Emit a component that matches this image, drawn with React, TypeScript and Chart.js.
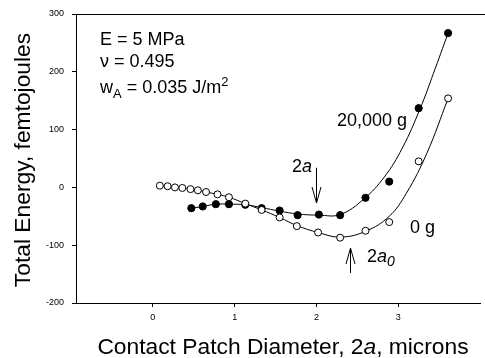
import React, { useEffect, useRef } from "react";
import { Chart, registerables } from "chart.js";

Chart.register(...registerables);

// 0 g series (open circles)
const xOpen = [0.085, 0.18, 0.27, 0.36, 0.46, 0.55, 0.65, 0.79, 0.93, 1.13, 1.33, 1.55, 1.76, 2.02, 2.29, 2.6, 2.89, 3.25, 3.61];
const yOpen = [3, 2, 0, -1, -3, -5, -8, -12, -17, -28, -39, -52, -67, -78, -87, -75, -60, 45, 154];

// 20,000 g series (filled circles)
const xFilled = [0.47, 0.61, 0.77, 0.93, 1.13, 1.33, 1.55, 1.77, 2.03, 2.29, 2.6, 2.89, 3.25, 3.61];
const yFilled = [-36, -33, -29, -29, -30, -36, -40, -48, -47, -48, -18, 10, 137, 267];

// fitted curves
const xOpenCurve = [0.085, 0.18, 0.27, 0.36, 0.46, 0.55, 0.65, 0.79, 0.93, 1.13, 1.33, 1.55, 1.76, 2.02, 2.29, 2.6, 2.89, 3.1, 3.35, 3.61];
const yOpenCurve = [3, 2, 0, -1, -3, -5, -8, -12, -17, -28, -39, -52, -66, -78, -86, -76, -50, -10, 59, 154];
const xFilledCurve = [0.47, 0.61, 0.77, 0.93, 1.13, 1.33, 1.55, 1.77, 2.03, 2.29, 2.58, 2.83, 3.05, 3.27, 3.43, 3.61];
const yFilledCurve = [-36, -33, -29, -29, -30, -35, -41, -46, -48, -47, -20, 18, 68, 137, 197, 267];

const xTickValues = [0, 1, 2, 3];
const yTickValues = [-200, -100, 0, 100, 200, 300];

const FONT = "'Liberation Sans', Arial, sans-serif";

type Seg = { t: string; size: number; italic?: boolean; dy?: number };

function drawSegs(ctx: CanvasRenderingContext2D, x: number, y: number, segs: Seg[]) {
  let cx = x;
  for (const s of segs) {
    ctx.font = `${s.italic ? "italic " : ""}${s.size}px ${FONT}`;
    ctx.fillText(s.t, cx, y + (s.dy || 0));
    cx += ctx.measureText(s.t).width;
  }
  return cx;
}

function segsWidth(ctx: CanvasRenderingContext2D, segs: Seg[]) {
  let w = 0;
  for (const s of segs) {
    ctx.font = `${s.italic ? "italic " : ""}${s.size}px ${FONT}`;
    w += ctx.measureText(s.t).width;
  }
  return w;
}

function arrow(ctx: CanvasRenderingContext2D, x: number, y0: number, y1: number) {
  const dir = y1 > y0 ? 1 : -1;
  ctx.beginPath();
  ctx.moveTo(x, y0);
  ctx.lineTo(x, y1);
  ctx.moveTo(x - 4.5, y1 - dir * 16);
  ctx.lineTo(x, y1);
  ctx.lineTo(x + 4.5, y1 - dir * 16);
  ctx.stroke();
}

const annotationPlugin = {
  id: "annotations",
  afterDraw(chart: any) {
    const ctx: CanvasRenderingContext2D = chart.ctx;
    const area = chart.chartArea;
    const xs = chart.scales.x;
    const ys = chart.scales.y;
    ctx.save();
    ctx.fillStyle = "#000";
    ctx.strokeStyle = "#000";
    ctx.lineWidth = 1;
    ctx.textBaseline = "alphabetic";
    ctx.textAlign = "left";

    // top frame line
    ctx.beginPath();
    ctx.moveTo(area.left, area.top + 0.5);
    ctx.lineTo(chart.width, area.top + 0.5);
    ctx.stroke();

    // parameter block
    drawSegs(ctx, 100, 45, [{ t: "E = 5 MPa", size: 18 }]);
    drawSegs(ctx, 100, 67, [{ t: "\u03bd = 0.495", size: 18 }]);
    drawSegs(ctx, 100, 93, [
      { t: "w", size: 18 },
      { t: "A", size: 13, dy: 5 },
      { t: " = 0.035 J/m", size: 18 },
      { t: "2", size: 13, dy: -7 },
    ]);

    // curve labels
    drawSegs(ctx, 337, 126, [{ t: "20,000 g", size: 18 }]);
    drawSegs(ctx, 410, 233, [{ t: "0 g", size: 18 }]);

    // 2a arrow (down)
    const ax = Math.round(xs.getPixelForValue(1.99)) + 0.5;
    arrow(ctx, ax, ys.getPixelForValue(34), ys.getPixelForValue(-27));
    drawSegs(ctx, 292, 172, [
      { t: "2", size: 18 },
      { t: "a", size: 18, italic: true },
    ]);

    // 2a0 arrow (up)
    const bx = Math.round(xs.getPixelForValue(2.41)) + 0.5;
    arrow(ctx, bx, ys.getPixelForValue(-148), ys.getPixelForValue(-105));
    drawSegs(ctx, 367, 262, [
      { t: "2", size: 18 },
      { t: "a", size: 18, italic: true },
      { t: "0", size: 14, italic: true, dy: 4 },
    ]);

    // x-axis title
    const xt: Seg[] = [
      { t: "Contact Patch Diameter, 2", size: 22.8 },
      { t: "a", size: 22.8, italic: true },
      { t: ", microns", size: 22.8 },
    ];
    const w = segsWidth(ctx, xt);
    drawSegs(ctx, 283 - w / 2, 354, xt);

    // y-axis title
    ctx.save();
    ctx.translate(30, 160);
    ctx.rotate(-Math.PI / 2);
    ctx.font = `22.8px ${FONT}`;
    ctx.textAlign = "center";
    ctx.fillText("Total Energy, femtojoules", 0, 0);
    ctx.restore();

    ctx.restore();
  },
};

const pts = (xs: number[], ys: number[]) => xs.map((x, i) => ({ x, y: ys[i] }));

export default function App() {
  const ref = useRef<HTMLCanvasElement>(null);
  useEffect(() => {
    document.body.style.margin = "0";
    const canvas = ref.current!;
    const chart = new Chart(canvas, {
      type: "scatter",
      data: {
        datasets: [
          {
            label: "0 g",
            data: pts(xOpen, yOpen),
            showLine: false,
            pointRadius: 3.5,
            pointBorderWidth: 1,
            pointBackgroundColor: "#fff",
            pointBorderColor: "#000",
          },
          {
            label: "20,000 g",
            data: pts(xFilled, yFilled),
            showLine: false,
            pointRadius: 3.6,
            pointBorderWidth: 1,
            pointBackgroundColor: "#000",
            pointBorderColor: "#000",
          },
          {
            label: "0 g fit",
            data: pts(xOpenCurve, yOpenCurve),
            showLine: true,
            borderColor: "#000",
            borderWidth: 1,
            tension: 0.4,
            pointRadius: 0,
          },
          {
            label: "20,000 g fit",
            data: pts(xFilledCurve, yFilledCurve),
            showLine: true,
            borderColor: "#000",
            borderWidth: 1,
            tension: 0.4,
            pointRadius: 0,
          },
        ],
      },
      options: {
        responsive: false,
        animation: false,
        devicePixelRatio: 1,
        layout: { padding: { top: 14, right: 1, left: 0, bottom: 0 } },
        plugins: { legend: { display: false }, tooltip: { enabled: false } },
        scales: {
          x: {
            type: "linear",
            min: -0.94,
            max: 4.0,
            afterFit: (s: any) => {
              s.height = 55;
            },
            afterBuildTicks: (s: any) => {
              s.ticks = xTickValues.map((v) => ({ value: v }));
            },
            grid: { display: true, drawOnChartArea: false, drawTicks: true, tickLength: 4, color: "#000" },
            border: { display: true, color: "#000", width: 1 },
            ticks: { font: { size: 9, family: FONT }, color: "#000", padding: 5, maxRotation: 0 },
          },
          y: {
            type: "linear",
            min: -200,
            max: 300,
            afterFit: (s: any) => {
              s.width = 76;
            },
            afterBuildTicks: (s: any) => {
              s.ticks = yTickValues.map((v) => ({ value: v }));
            },
            grid: { display: true, drawOnChartArea: false, drawTicks: true, tickLength: 4, color: "#000" },
            border: { display: true, color: "#000", width: 1 },
            ticks: { font: { size: 9, family: FONT }, color: "#000", padding: 8 },
          },
        },
      },
      plugins: [annotationPlugin],
    });
    return () => chart.destroy();
  }, []);
  return (
    <div style={{ position: "relative", width: 485, height: 358 }}>
      <canvas ref={ref} width={485} height={358} style={{ display: "block" }} />
    </div>
  );
}
